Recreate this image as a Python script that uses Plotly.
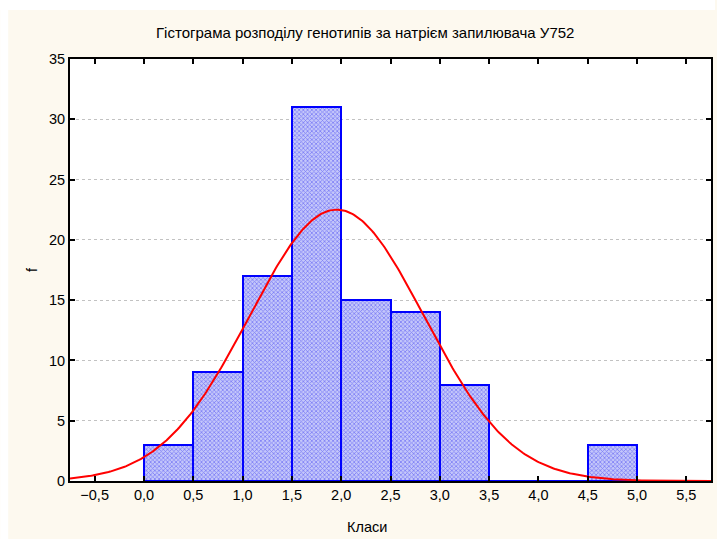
import numpy as np
import plotly.graph_objects as go

# ---- data ----
bin_left = [0.0, 0.5, 1.0, 1.5, 2.0, 2.5, 3.0, 3.5, 4.0, 4.5]
counts = [3, 9, 17, 31, 15, 14, 8, 0, 0, 3]
bin_width = 0.5
x_ticks = [-0.5, 0.0, 0.5, 1.0, 1.5, 2.0, 2.5, 3.0, 3.5, 4.0, 4.5, 5.0, 5.5]
y_ticks = [0, 5, 10, 15, 20, 25, 30, 35]
title_text = "Гістограма розподілу генотипів за натрієм запилювача У752"
x_label = "Класи"
y_label = "f"

# fitted normal curve derived from the histogram itself (Statistica-style fit)
mids = np.array(bin_left) + bin_width / 2
cnt = np.array(counts, dtype=float)
n = cnt.sum()
mean = (mids * cnt).sum() / n
sd = np.sqrt(((mids - mean) ** 2 * cnt).sum() / n)
xc = np.linspace(-0.75, 5.75, 400)
yc = n * bin_width * np.exp(-((xc - mean) ** 2) / (2 * sd ** 2)) / (sd * np.sqrt(2 * np.pi))

W, H = 717, 539
L, R, T, B = 70, 4, 59, 58
pw, ph = W - L - R, H - T - B

fig = go.Figure()
fig.add_trace(go.Bar(
    x=[b + bin_width / 2 for b in bin_left], y=counts, width=bin_width,
    marker=dict(color="#A0A4F4",
                pattern=dict(shape="x", size=3, solidity=0.45, fgcolor="#3434F2", bgcolor="#C4C7FA"),
                line=dict(color="#0000FF", width=2)),
    hoverinfo="skip", showlegend=False,
))
fig.add_trace(go.Scatter(x=xc, y=yc, mode="lines", line=dict(color="#FF0000", width=2),
                         hoverinfo="skip", showlegend=False))

def px_x(p):
    return (p - L) / pw

def px_y(p):
    return (H - B - p) / ph

fig.update_layout(
    width=W, height=H,
    margin=dict(l=L, r=R, t=T, b=B),
    paper_bgcolor="#FDF9EF", plot_bgcolor="#FFFFFF",
    separators=",.",
    font=dict(family="Liberation Sans, Arial, sans-serif", size=14.5, color="#000000"),
    bargap=0,
    xaxis=dict(range=[-0.75, 5.75], tickvals=x_ticks, tickformat=".1f",
               ticks="inside", ticklen=5, tickwidth=2, tickcolor="#000000",
               showline=True, linewidth=2, linecolor="#000000", mirror="ticks",
               showgrid=False, zeroline=False, fixedrange=True),
    yaxis=dict(range=[0, 35], tickvals=y_ticks,
               ticks="inside", ticklen=5, tickwidth=2, tickcolor="#000000",
               showline=True, linewidth=2, linecolor="#000000", mirror="ticks",
               showgrid=True, gridcolor="#C2C2C2", griddash="dot", gridwidth=1,
               zeroline=False, fixedrange=True),
    shapes=[
        dict(type="rect", xref="paper", yref="paper", x0=px_x(0), x1=px_x(8), y0=px_y(H), y1=px_y(0),
             fillcolor="#FFFFFF", line=dict(width=0), layer="below"),
        dict(type="rect", xref="paper", yref="paper", x0=px_x(0), x1=px_x(W), y0=px_y(10), y1=px_y(0),
             fillcolor="#FFFFFF", line=dict(width=0), layer="below"),
    ],
    annotations=[
        dict(text=title_text, xref="paper", yref="paper", x=px_x(366), y=px_y(32),
             showarrow=False, font=dict(size=15), xanchor="center", yanchor="middle"),
        dict(text=x_label, xref="paper", yref="paper", x=px_x(368), y=px_y(527),
             showarrow=False, font=dict(size=14.5), xanchor="center", yanchor="middle"),
        dict(text=y_label, xref="paper", yref="paper", x=px_x(32), y=px_y(270),
             showarrow=False, font=dict(size=14.5), textangle=-90, xanchor="center", yanchor="middle"),
    ],
)

fig.write_html("out.html")
